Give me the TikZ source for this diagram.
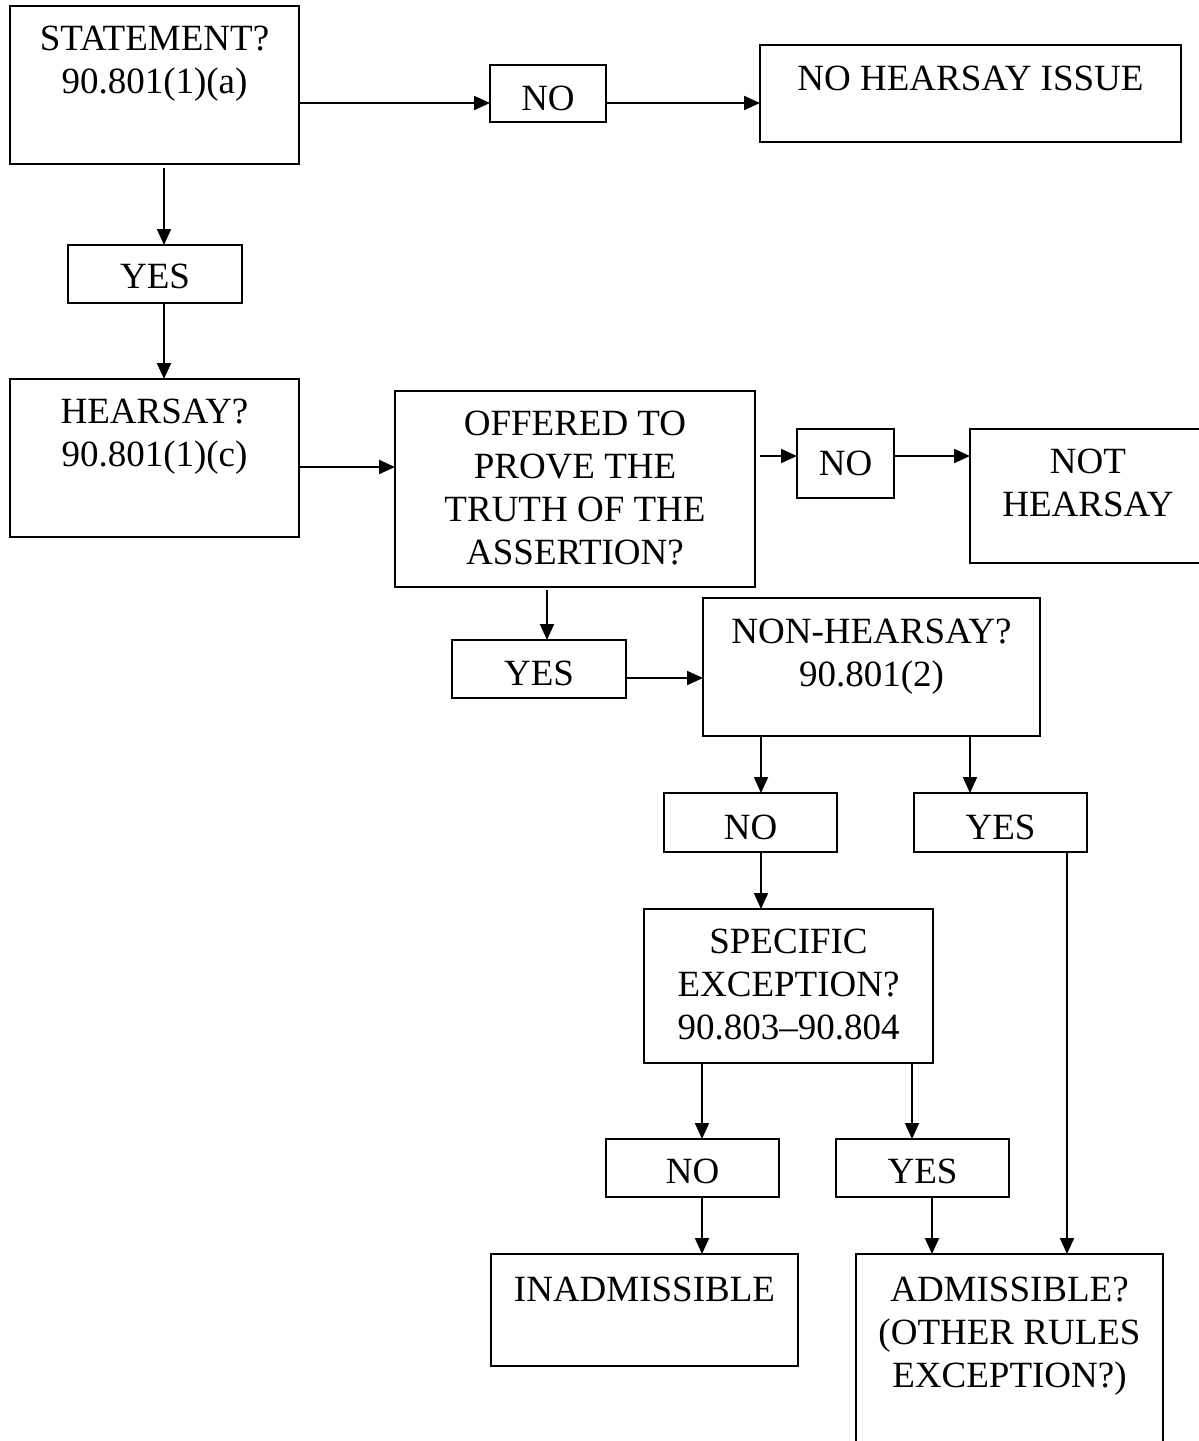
\documentclass[tikz,border=0pt]{standalone}
\usepackage{fontspec}
\setmainfont{Liberation Serif}
\usetikzlibrary{arrows.meta}

\begin{document}
\begin{tikzpicture}[x=1pt,y=-1pt,
  box/.style={draw, line width=2pt, align=center, anchor=north,
    inner sep=0pt, outer sep=0pt, font=\fontsize{37}{43}\selectfont},
  arr/.style={-{Triangle[length=16pt,width=14pt]}, line width=2pt}]

\useasboundingbox (0,0) rectangle (1199,1441);

% boxes, placed by the middle of their top edge
\node[box, minimum width=289pt, text height=87pt, text depth=71pt] (stmt) at (154.5,6) {STATEMENT?\\90.801(1)(a)};
\node[box, minimum width=116pt, text height=45pt, text depth=12pt] (no1) at (548,65) {NO};
\node[box, minimum width=421pt, text height=45pt, text depth=52pt] (nhi) at (970.5,45) {NO HEARSAY ISSUE};
\node[box, minimum width=174pt, text height=43pt, text depth=15pt] (yes1) at (155,245) {YES};
\node[box, minimum width=289pt, text height=87pt, text depth=71pt] (hsay) at (154.5,379) {HEARSAY?\\90.801(1)(c)};
\node[box, minimum width=360pt, text height=173pt, text depth=23pt] (offer) at (575,391) {OFFERED TO\\PROVE THE\\TRUTH OF THE\\ASSERTION?};
\node[box, minimum width=97pt, text height=46pt, text depth=23pt] (no2) at (845.5,429) {NO};
\node[box, minimum width=236pt, text height=87pt, text depth=47pt] (noths) at (1088,429) {NOT\\HEARSAY};
\node[box, minimum width=174pt, text height=45pt, text depth=13pt] (yes2) at (539,640) {YES};
\node[box, minimum width=337pt, text height=88pt, text depth=50pt] (nonh) at (871.5,598) {NON-HEARSAY?\\90.801(2)};
\node[box, minimum width=173pt, text height=46pt, text depth=13pt] (no3) at (750.5,793) {NO};
\node[box, minimum width=173pt, text height=46pt, text depth=13pt] (yes3) at (1000.5,793) {YES};
\node[box, minimum width=289pt, text height=130pt, text depth=24pt] (spec) at (788.5,909) {SPECIFIC\\EXCEPTION?\\90.803–90.804};
\node[box, minimum width=173pt, text height=44pt, text depth=14pt] (no4) at (692.5,1139) {NO};
\node[box, minimum width=173pt, text height=44pt, text depth=14pt] (yes4) at (922.5,1139) {YES};
\node[box, minimum width=307pt, text height=47pt, text depth=65pt] (inad) at (644.5,1254) {INADMISSIBLE};
\node[box, minimum width=307pt, text height=133pt, text depth=84pt] (adm) at (1009.5,1254) {ADMISSIBLE?\\(OTHER RULES\\EXCEPTION?)};

% rows and columns of the connectors
\coordinate (r1) at (0,103);
\coordinate (r2) at (0,467);
\coordinate (r3) at (0,456);
\coordinate (r4) at (0,678);
\coordinate (c1) at (164,0);
\coordinate (c2) at (547,0);
\coordinate (c3) at (761,0);
\coordinate (c4) at (970,0);
\coordinate (c5) at (1067,0);
\coordinate (c6) at (702,0);
\coordinate (c7) at (912,0);
\coordinate (c8) at (932,0);

% across
\draw[arr] (stmt.east |- r1) -- (no1.west |- r1);
\draw[arr] (no1.east |- r1) -- (nhi.west |- r1);
\draw[arr] (hsay.east |- r2) -- (offer.west |- r2);
\draw[arr, shorten <=5pt] (offer.east |- r3) -- (no2.west |- r3);
\draw[arr] (no2.east |- r3) -- (noths.west |- r3);
\draw[arr] (yes2.east |- r4) -- (nonh.west |- r4);

% down
\draw[arr, shorten <=4pt] (stmt.south -| c1) -- (yes1.north -| c1);
\draw[arr] (yes1.south -| c1) -- (hsay.north -| c1);
\draw[arr, shorten <=3pt] (offer.south -| c2) -- (yes2.north -| c2);
\foreach \s/\t/\c in {nonh/no3/c3, nonh/yes3/c4, no3/spec/c3, yes3/adm/c5,
                      spec/no4/c6, spec/yes4/c7, no4/inad/c6, yes4/adm/c8}
  \draw[arr] (\s.south -| \c) -- (\t.north -| \c);
\end{tikzpicture}
\end{document}
